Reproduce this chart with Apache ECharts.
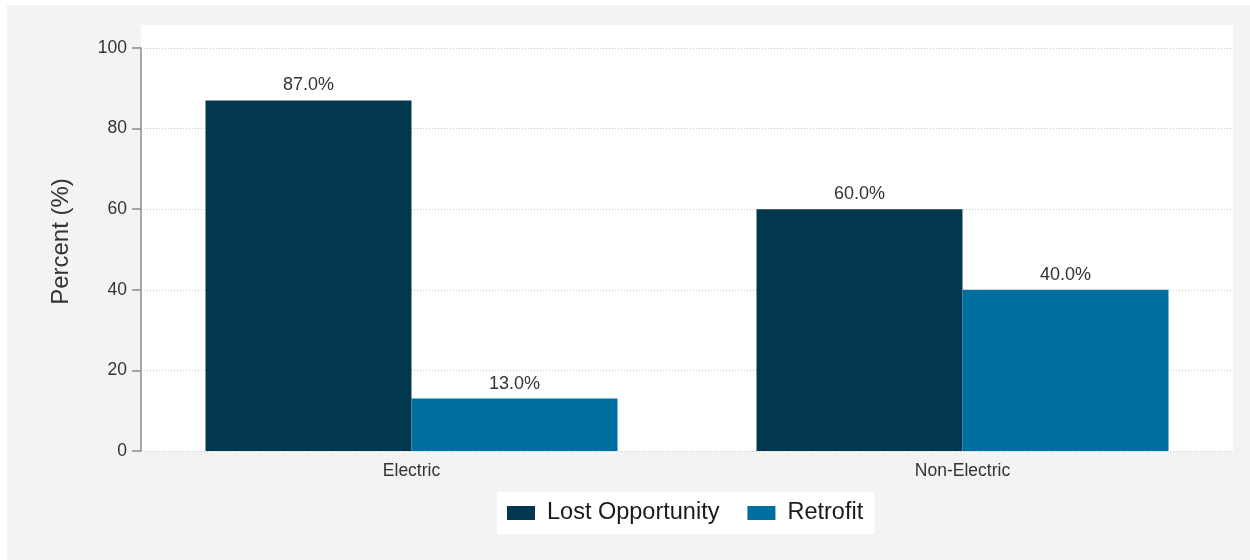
<!DOCTYPE html>
<html><head><meta charset="utf-8">
<script src="https://cdn.jsdelivr.net/npm/echarts@6/dist/echarts.min.js"></script>
<style>html,body{margin:0;padding:0;background:#fff}#c{width:1250px;height:560px}</style>
</head><body><div id="c"></div>
<script>
const categories = ['Electric', 'Non-Electric'];
const seriesNames = ['Lost Opportunity', 'Retrofit'];
const lostOpportunity = [87.0, 60.0];
const retrofit = [13.0, 40.0];
const yTicks = [0, 20, 40, 60, 80, 100];
const colors = ['#02384f', '#006f9f'];

const chart = echarts.init(document.getElementById('c'), null, {renderer: 'canvas'});
const font = 'Liberation Sans, Arial, sans-serif';
const labelFmt = p => p.value.toFixed(1) + '%';
const option = {
  backgroundColor: '#ffffff',
  animation: false,
  textStyle: {fontFamily: font},
  graphic: [
    {type: 'rect', z: -10, shape: {x: 7, y: 5, width: 1243, height: 555}, style: {fill: '#f3f3f3'}},
    {type: 'rect', z: -9, shape: {x: 141, y: 25, width: 1092, height: 426}, style: {fill: '#ffffff'}}
  ],
  grid: [
    {left: 136, right: 12, top: 48, bottom: 109},
    {left: 141, right: 17, top: 48, bottom: 109}
  ],
  legend: {
    left: 497, top: 492,
    backgroundColor: '#ffffff',
    padding: [9, 11, 9, 10],
    itemWidth: 28, itemHeight: 14, itemGap: 28,
    icon: 'rect',
    textStyle: {fontSize: 23.5, color: '#1a1a1a', fontFamily: font, padding: [4, 0, 0, 7]},
    data: seriesNames
  },
  xAxis: [
    {type: 'category', gridIndex: 0, data: categories,
     axisLine: {show: false}, axisTick: {show: false},
     axisLabel: {fontSize: 17.5, color: '#333', margin: 11, fontFamily: font}},
    {type: 'value', gridIndex: 1, show: false, min: 0, max: 1}
  ],
  yAxis: [
    {type: 'value', gridIndex: 0, min: 0, max: 100, show: false},
    {type: 'value', gridIndex: 1, min: 0, max: 100, interval: 20,
     name: 'Percent (%)', nameLocation: 'middle', nameGap: 68,
     nameTextStyle: {fontSize: 24, color: '#333', fontFamily: font, padding: [0, 0, 0, 16]},
     axisLine: {show: true, lineStyle: {color: '#8c8c8c', width: 1.5}},
     axisTick: {show: true, length: 9, lineStyle: {color: '#8c8c8c', width: 1.5}},
     axisLabel: {fontSize: 17.5, color: '#333', margin: 14, fontFamily: font,
       formatter: v => yTicks.includes(v) ? String(v) : ''},
     splitLine: {show: true, lineStyle: {color: '#c8c8c8', type: [1, 2], width: 1}}}
  ],
  series: [
    {name: seriesNames[0], type: 'bar', xAxisIndex: 0, yAxisIndex: 0, data: lostOpportunity,
     barWidth: 206, barGap: '0%', itemStyle: {color: colors[0]},
     label: {show: true, position: 'top', distance: 6, fontSize: 18, color: '#333', formatter: labelFmt}},
    {name: seriesNames[1], type: 'bar', xAxisIndex: 0, yAxisIndex: 0, data: retrofit,
     barWidth: 206, barGap: '0%', itemStyle: {color: colors[1]},
     label: {show: true, position: 'top', distance: 6, fontSize: 18, color: '#333', formatter: labelFmt}}
  ]
};
chart.setOption(option);
</script></body></html>
